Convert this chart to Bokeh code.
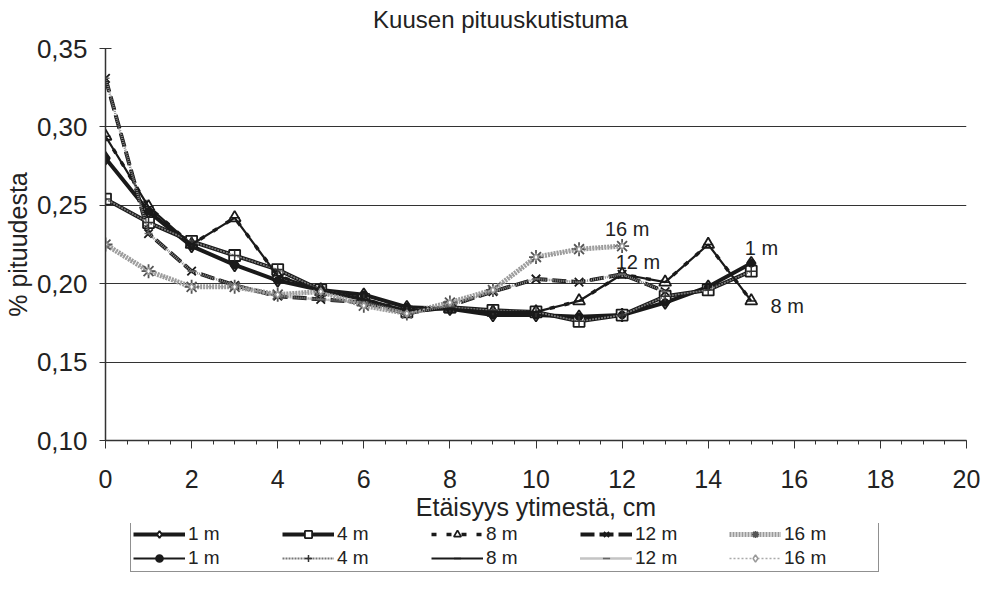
from bokeh.plotting import figure
from bokeh.layouts import column
from bokeh.models import Legend, LegendItem, FixedTicker, CustomJSTickFormatter, Range1d, Label
from bokeh.embed import file_html
from bokeh.resources import INLINE
from bokeh.core.properties import value

# ---- data ----
distance = [0, 1, 2, 3, 4, 5, 6, 7, 8, 9, 10, 11, 12, 13, 14, 15]
h_1m = [0.280, 0.246, 0.224, 0.212, 0.202, 0.196, 0.193, 0.185, 0.184, 0.180, 0.180, 0.179, 0.180, 0.188, 0.198, 0.213]
h_4m = [0.254, 0.239, 0.227, 0.218, 0.209, 0.196, 0.190, 0.182, 0.185, 0.183, 0.182, 0.176, 0.180, 0.192, 0.196, 0.208]
h_8m = [0.294, 0.249, 0.225, 0.242, 0.205, 0.196, 0.190, 0.183, 0.184, 0.182, 0.182, 0.189, 0.206, 0.201, 0.225, 0.189]
distance_12m = [0, 1, 2, 3, 4, 5, 6, 7, 8, 9, 10, 11, 12, 13]
h_12m = [0.331, 0.232, 0.208, 0.199, 0.192, 0.190, 0.188, 0.181, 0.186, 0.195, 0.203, 0.201, 0.206, 0.195]
distance_16m = [0, 1, 2, 3, 4, 5, 6, 7, 8, 9, 10, 11, 12]
h_16m = [0.225, 0.208, 0.198, 0.198, 0.193, 0.195, 0.186, 0.181, 0.188, 0.196, 0.217, 0.222, 0.224]

series_names = ["1 m", "4 m", "8 m", "12 m", "16 m"]

label_text = ["16 m", "12 m", "1 m", "8 m"]
label_x = [11.6, 11.85, 14.85, 15.45]
label_y = [0.235, 0.214, 0.223, 0.186]

x_ticks = [0, 2, 4, 6, 8, 10, 12, 14, 16, 18, 20]
x_minor = [i * 0.5 for i in range(41)]
y_ticks = [0.10, 0.15, 0.20, 0.25, 0.30, 0.35]

title_text = "Kuusen pituuskutistuma"

FONT = "Liberation Sans"
INK = "#222222"
W = 983
ML, MR = 105, 17

# ---- title strip ----
pt = figure(width=W, height=34, output_backend="svg", toolbar_location=None,
            x_range=Range1d(0, 1), y_range=Range1d(0, 1),
            min_border_left=ML, min_border_right=MR, min_border_top=0, min_border_bottom=0)
pt.axis.visible = False
pt.grid.visible = False
pt.outline_line_color = None
pt.border_fill_color = "white"
pt.background_fill_color = "white"
pt.add_layout(Label(x=395, y=15, x_units="screen", y_units="screen", text=title_text,
                    text_font=FONT, text_font_size="24px", text_color=INK,
                    text_align="center", text_baseline="middle"))

# ---- main chart ----
p = figure(width=W, height=489, output_backend="svg", toolbar_location=None,
           x_range=Range1d(0, 20), y_range=Range1d(0.10, 0.35),
           min_border_left=ML, min_border_right=MR, min_border_top=14, min_border_bottom=80)
p.outline_line_color = None
p.background_fill_color = "white"
p.border_fill_color = "white"

xa = p.xaxis[0]
xa.ticker = FixedTicker(ticks=x_ticks, minor_ticks=x_minor)
xa.major_tick_in = 0
xa.major_tick_out = 8
xa.minor_tick_in = 0
xa.minor_tick_out = 4
xa.axis_line_color = "#333333"
xa.axis_line_width = 1.5
xa.major_tick_line_color = "#333333"
xa.minor_tick_line_color = "#333333"
xa.major_label_text_font = FONT
xa.major_label_text_font_size = "25px"
xa.major_label_text_color = INK
xa.major_label_standoff = 21
xa.axis_label = "Etäisyys ytimestä, cm"
xa.axis_label_text_font = FONT
xa.axis_label_text_font_size = "25px"
xa.axis_label_text_font_style = "normal"
xa.axis_label_text_color = INK
xa.axis_label_standoff = 2

ya = p.yaxis[0]
ya.ticker = FixedTicker(ticks=y_ticks, minor_ticks=[])
ya.formatter = CustomJSTickFormatter(code="return tick.toFixed(2).replace('.', ',');")
ya.major_tick_in = 6
ya.major_tick_out = 6
ya.axis_line_color = "#333333"
ya.axis_line_width = 1.5
ya.major_tick_line_color = "#333333"
ya.major_label_text_font = FONT
ya.major_label_text_font_size = "26px"
ya.major_label_text_color = INK
ya.major_label_standoff = 12
ya.axis_label = "% pituudesta"
ya.axis_label_text_font = FONT
ya.axis_label_text_font_size = "25px"
ya.axis_label_text_font_style = "normal"
ya.axis_label_text_color = INK
ya.axis_label_standoff = 2

p.xgrid.grid_line_color = None
p.ygrid.grid_line_color = "#333333"
p.ygrid.grid_line_width = 1

xs = [distance, distance, distance, distance_12m, distance_16m]
ys = [h_1m, h_4m, h_8m, h_12m, h_16m]

# first set: thick lines with open markers
style1 = [
    dict(color="#1a1a1a", width=4.0, dash="solid", marker="diamond", size=13, fill="white", mcolor="#1a1a1a"),
    dict(color="#1a1a1a", width=4.0, dash="solid", marker="square", size=11, fill="white", mcolor="#1a1a1a"),
    dict(color="#1a1a1a", width=3.5, dash="5 10", marker="triangle", size=12, fill="white", mcolor="#1a1a1a"),
    dict(color="#1a1a1a", width=4.0, dash="14 5", marker="x", size=12, fill="white", mcolor="#1a1a1a"),
    dict(color="#9a9a9a", width=5.0, dash="2 1", marker="asterisk", size=14, fill="white", mcolor="#555555"),
]
# second set: thin lines with small markers
style2 = [
    dict(color="#1a1a1a", width=2.0, dash="solid", marker="circle", size=7, fill="#1a1a1a", mcolor="#1a1a1a"),
    dict(color="#777777", width=1.8, dash="2 1", marker="cross", size=10, fill="#1a1a1a", mcolor="#333333"),
    dict(color="#1a1a1a", width=2.2, dash="solid", marker="dash", size=10, fill="#1a1a1a", mcolor="#1a1a1a"),
    dict(color="#888888", width=2.5, dash="1 1", marker="dash", size=8, fill="#888888", mcolor="#666666"),
    dict(color="#aaaaaa", width=1.5, dash="2 2", marker="diamond", size=7, fill="white", mcolor="#999999"),
]


def draw(fig, styles, mwidth):
    out = []
    for x, y, s in zip(xs, ys, styles):
        l = fig.line(x, y, line_color=s["color"], line_width=s["width"], line_dash=s["dash"])
        m = fig.scatter(x, y, marker=s["marker"], size=s["size"], fill_color=s["fill"],
                        line_color=s["mcolor"], line_width=mwidth)
        out.append([l, m])
    return out


draw(p, style1, 1.8)
draw(p, style2, 1.5)

p.text(x=label_x, y=label_y, text=label_text, text_font=value(FONT), text_font_size="20px",
       text_color=INK, text_baseline="middle", text_align="left")

# ---- legend in its own strip below the chart (same series, ranges outside the data) ----
pl = figure(width=W, height=50, output_backend="svg", toolbar_location=None,
            x_range=Range1d(100, 101), y_range=Range1d(100, 101),
            min_border_left=ML, min_border_right=MR, min_border_top=0, min_border_bottom=0)
pl.axis.visible = False
pl.grid.visible = False
pl.outline_line_color = None
pl.border_fill_color = "white"
pl.background_fill_color = "white"

rend1 = draw(pl, style1, 1.8)
rend2 = draw(pl, style2, 1.5)
items = [LegendItem(label=n, renderers=r) for n, r in zip(series_names, rend1)]
items += [LegendItem(label=n, renderers=r) for n, r in zip(series_names, rend2)]

legend = Legend(items=items, orientation="horizontal", ncols=5,
                location=(25, 1), border_line_color=INK, border_line_width=1.5,
                background_fill_color="white", background_fill_alpha=1.0,
                label_text_font=FONT, label_text_font_size="19px", label_text_color=INK,
                glyph_width=52, glyph_height=18, label_height=18, label_standoff=3,
                label_width=92, spacing=2, padding=2, margin=0)
pl.add_layout(legend, "center")

layout = column(pt, p, pl, spacing=0)
open("out.html", "w").write(file_html(layout, INLINE))
